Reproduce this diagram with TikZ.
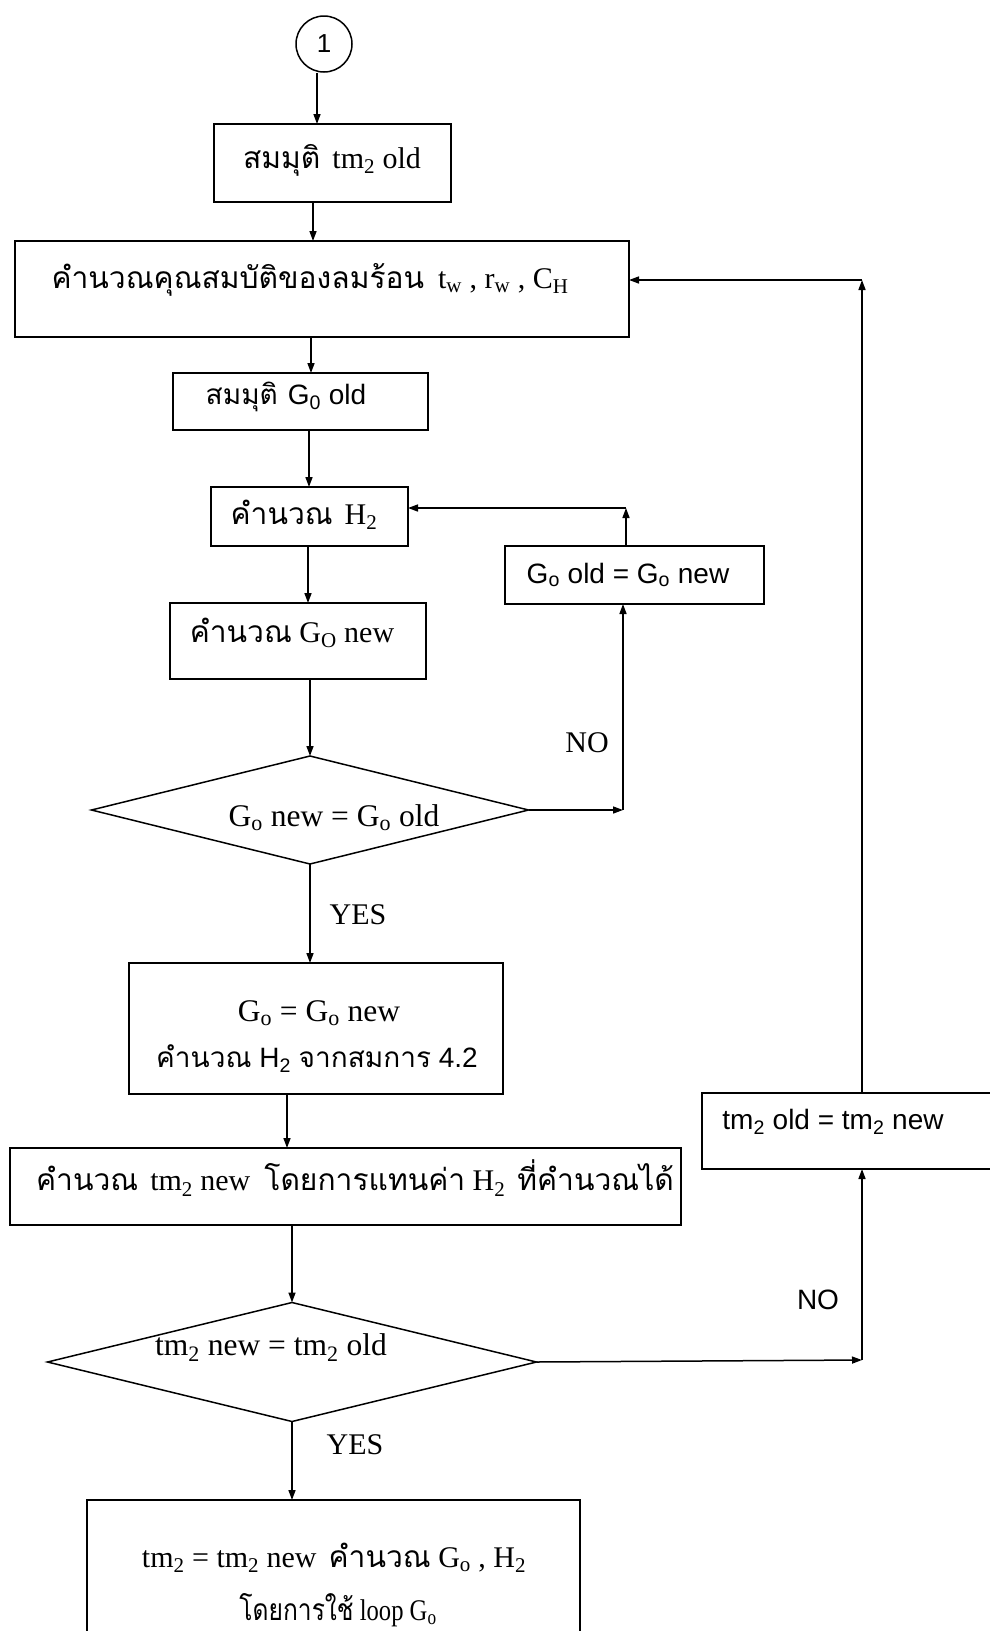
\documentclass[tikz,border=0pt]{standalone}
\usepackage{fontspec}
\usepackage{graphicx}
\setmainfont{Liberation Serif}
\newfontfamily\thaifont[Script=Thai,Scale=1.0]{Loma}
\newfontfamily\lsans{Liberation Sans}
\usetikzlibrary{arrows.meta,shapes.geometric,fit}
\newcommand\T[1]{{\thaifont #1}}
\newcommand\dn[1]{\textsubscript{#1}}
\begin{document}
\begin{tikzpicture}[x=1pt,y=-1pt,
  line width=1.5pt,
  box/.style={draw, rectangle, inner sep=0pt, outer sep=0pt},
  dia/.style={draw, diamond, inner sep=0pt, outer sep=0pt},
  arr/.style={-{Triangle[length=10pt,width=7pt]}},
  txt/.style={inner sep=0pt, font=\fontsize{30}{36}\selectfont},
  ltxt/.style={inner sep=0pt, font=\fontsize{31.5}{38}\selectfont},
  stxt/.style={inner sep=0pt, font=\lsans\fontsize{28}{34}\selectfont}]
\useasboundingbox (0,0) rectangle (990,1631);
\fill[white] (0,0) rectangle (990,1631);

% shapes
\node[draw, circle, minimum size=56pt, inner sep=0pt, font=\lsans\fontsize{26}{30}\selectfont] (c0) at (324,44) {1};
\node[box, fit={(214,124) (451,202)}] (b1) {};
\node[box, fit={(15,241) (629,337)}] (b2) {};
\node[box, fit={(173,373) (428,430)}] (b3) {};
\node[box, fit={(211,487) (408,546)}] (b4) {};
\node[box, fit={(505,546) (764,604)}] (bg) {};
\node[box, fit={(170,603) (426,679)}] (b5) {};
\node[dia, minimum width=437pt, minimum height=108pt] (d1) at (310,810) {};
\node[box, fit={(129,963) (503,1094)}] (b6) {};
\node[box, fit={(10,1148) (681,1225)}] (b7) {};
\node[dia, minimum width=489pt, minimum height=119pt] (d2) at (292,1362) {};
\node[box, fit={(702,1093) (1010,1169)}] (b8) {};
\node[box, fit={(87,1500) (580,1680)}] (b9) {};

% texts
\node[txt] (t1) at (332,160) {\T{สมมุติ}\hspace{12pt}tm\dn{2} old};
\node[txt] (t2) at (310,280) {\T{คำนวณคุณสมบัติของลมร้อน}\hspace{14pt}t\dn{w} , r\dn{w} , C\dn{H}};
\node[stxt] (t3) at (286,397) {\T{สมมุติ}\hspace{10pt}G\dn{0} old};
\node[txt] (t4) at (304,515) {\T{คำนวณ}\hspace{12pt}H\dn{2}};
\node[stxt] (tg) at (628,575) {G\dn{o} old = G\dn{o} new};
\node[txt] (t5) at (292,633) {\T{คำนวณ} G\dn{O} new};
\node[ltxt] (td1) at (334,818) {G\dn{o} new = G\dn{o} old};
\node[txt] (no1) at (587,743) {NO};
\node[txt] (yes1) at (358,915) {YES};
\node[ltxt] (t6a) at (319,1013) {G\dn{o} = G\dn{o} new};
\node[stxt] (t6b) at (317,1059) {\T{คำนวณ} H\dn{2} \T{จากสมการ} 4.2};
\node[txt] (t7) at (355,1178) {\T{คำนวณ}\hspace{12pt}tm\dn{2} new\hspace{14pt}\T{โดยการแทนค่า} H\dn{2}\hspace{12pt}\T{ที่คำนวณได้}};
\node[ltxt] (td2) at (271,1348) {tm\dn{2} new = tm\dn{2} old};
\node[stxt] (no2) at (818,1300) {NO};
\node[stxt] (t8) at (833,1122) {tm\dn{2} old = tm\dn{2} new};
\node[txt] (yes2) at (355,1445) {YES};
\node[txt] (t9a) at (334,1558) {tm\dn{2} = tm\dn{2} new\hspace{12pt}\T{คำนวณ} G\dn{o} , H\dn{2}};
\node[txt] (t9b) at (338,1610) {\scalebox{0.82}[1]{\T{โดยการใช้} loop G\dn{o}}};

% corner points
\coordinate (c1) at (623,810);
\coordinate (c2) at (626,508);
\coordinate (c3) at (862,1360);
\coordinate (c4) at (862,280);

% main column
\draw[arr] (c0.south -| 317,0) -- (b1.north -| 317,0);
\draw[arr] (b1.south -| 313,0) -- (b2.north -| 313,0);
\draw[arr] (b2.south -| 311,0) -- (b3.north -| 311,0);
\draw[arr] (b3.south -| 309,0) -- (b4.north -| 309,0);
\draw[arr] (b4.south -| 308,0) -- (b5.north -| 308,0);
\draw[arr] (b5.south -| d1.north) -- (d1.north);
\draw[arr] (d1.south) -- (d1.south |- b6.north);
\draw[arr] (b6.south -| 287,0) -- (b7.north -| 287,0);
\draw[arr] (b7.south -| d2.north) -- (d2.north);
\draw[arr] (d2.south) -- (d2.south |- b9.north);

% inner loop
\draw[arr] (d1.east) -- (c1);
\draw[arr] (c1) -- (c1 |- bg.south);
\draw[arr] (c2 |- bg.north) -- (c2);
\draw[arr] (c2) -- (c2 -| b4.east);

% outer loop
\draw[arr] (d2.east) -- (c3);
\draw[arr] (c3) -- (c3 |- b8.south);
\draw[arr] (c4 |- b8.north) -- (c4);
\draw[arr] (c4) -- (c4 -| b2.east);
\end{tikzpicture}
\end{document}
